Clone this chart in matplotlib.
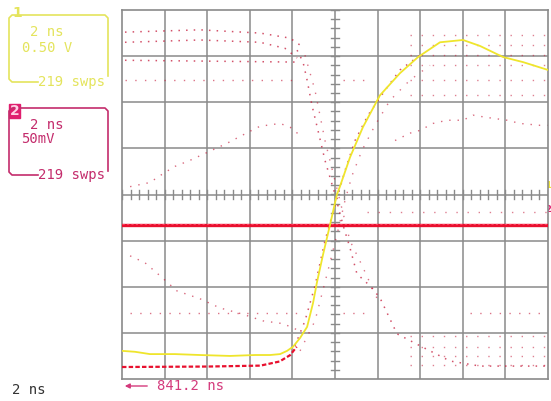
import numpy as np
import matplotlib
matplotlib.use("Agg")
import matplotlib.pyplot as plt
from matplotlib.patches import Rectangle

# Trace 1 (jaune) : temps en ns, amplitude en divisions
t_jaune = [-10.0, -9.39, -8.69, -7.51, -6.34, -4.93, -3.76, -3.05, -2.58, -2.25,
           -1.97, -1.64, -1.31, -1.03, -0.85, -0.56, -0.23, 0.09, 0.23, 0.70,
           1.31, 2.11, 3.05, 3.90, 4.93, 6.01, 6.81, 7.89, 8.83, 10.0]
v_jaune = [-3.39, -3.41, -3.46, -3.46, -3.48, -3.50, -3.48, -3.48, -3.46, -3.39,
           -3.30, -3.11, -2.87, -2.35, -1.91, -1.30, -0.65, 0.0, 0.17, 0.80,
           1.46, 2.15, 2.63, 2.98, 3.30, 3.35, 3.22, 2.98, 2.87, 2.70]

# Trace 2 (rouge) : ligne de base et rail bas
t_base = [-10.0, 10.0]
v_base = [-0.67, -0.67]
t_rail = [-10.0, -6.0, -3.5, -2.6, -2.1, -1.8]
v_rail = [-3.74, -3.73, -3.71, -3.62, -3.48, -3.30]

# Points persistants (diagramme de l'oeil), par segments
t_haut1 = [-9.86, -6.34, -3.52, -2.11, -1.64]
v_haut1 = [3.52, 3.57, 3.50, 3.39, 3.24]
t_haut2 = [-9.86, -6.34, -3.52, -2.35, -1.78]
v_haut2 = [3.30, 3.35, 3.30, 3.17, 2.96]
t_haut3 = [-9.86, -1.64]
v_haut3 = [2.91, 2.87]
t_rang_h = [-9.86, -1.64, np.nan, 0.38, 1.64]
v_rang_h = [2.48, 2.48, np.nan, 2.48, 2.48]
t_rang_b = [-9.62, -1.64, np.nan, 0.38, 1.75, np.nan, 6.34, 9.62]
v_rang_b = [-2.57, -2.57, np.nan, -2.57, -2.57, np.nan, -2.57, -2.57]

t_desc1 = [-1.78, -1.50, -1.31, -1.08, -0.80, -0.47, 0.0, 0.38, 0.70, 1.03,
           1.64, 2.11, 2.91, 3.99, 5.40, 6.81, 10.0]
v_desc1 = [3.13, 2.87, 2.48, 1.93, 1.39, 0.74, 0.0, -0.67, -1.15, -1.72,
           -1.98, -2.24, -3.02, -3.28, -3.61, -3.72, -3.72]
t_desc2 = [-1.41, -0.94, -0.47, 0.23, 0.70, 1.27, 2.02]
v_desc2 = [3.02, 2.26, 1.17, -0.13, -1.00, -1.54, -2.30]

t_mont1 = [-1.88, -1.41, -0.94, -0.47, 0.0, 0.47, 0.94, 1.55, 2.35, 3.05, 3.99]
v_mont1 = [-3.28, -2.74, -1.98, -1.00, -0.24, 0.52, 1.17, 1.72, 2.26, 2.70, 3.02]
t_mont2 = [-1.64, -0.94, -0.33, 0.14, 0.47, 0.80, 1.27, 1.88, 2.58, 3.52, 4.46]
v_mont2 = [-3.39, -2.74, -1.65, -0.78, -0.13, 0.41, 0.96, 1.50, 2.04, 2.48, 2.80]

t_plat_h = [3.5, 10.0]
v_plat_h = [3.46, 3.24, 3.02, 2.80, 2.48, 2.15]
t_plat_b = [3.5, 10.0]
v_plat_b = [-3.07, -3.30, -3.50, -3.70]

t_mil1 = [-9.62, -8.69, -7.98, -7.51, -6.81, -6.01, -5.07, -4.08, -3.52, -2.58, -2.11, -1.64]
v_mil1 = [0.17, 0.26, 0.48, 0.61, 0.74, 0.91, 1.11, 1.35, 1.48, 1.54, 1.46, 1.28]
t_mil2 = [2.82, 3.52, 3.99, 4.60, 5.26, 6.01, 6.48, 7.14, 8.08, 8.69, 9.62, 10.0]
v_mil2 = [1.17, 1.33, 1.39, 1.54, 1.61, 1.61, 1.72, 1.67, 1.61, 1.54, 1.50, 1.50]
t_mil3 = [-9.62, -8.92, -8.22, -7.42, -6.34, -5.40, -4.37, -3.38, -2.44, -1.64]
v_mil3 = [-1.33, -1.48, -1.76, -2.09, -2.26, -2.46, -2.59, -2.74, -2.80, -2.96]
t_mil4 = [1.5, 10.0]
v_mil4 = [-0.39, -0.39]

JAUNE = "#efe52c"
JAUNE_TXT = "#e4e45c"
ROUGE = "#e8102e"
ROUGE_PT = "#c41838"
MAGENTA = "#c42c6c"
GRILLE = "#8a8a8a"

W, H = 551, 401
fig = plt.figure(figsize=(W / 100, H / 100), dpi=100)

# Axe d'annotation en pixels (toute la figure)
ov = fig.add_axes([0, 0, 1, 1])
ov.set_xlim(0, W)
ov.set_ylim(H, 0)
ov.axis("off")

# Ecran de l'oscilloscope
x0, x1, y0, y1 = 122, 548, 10, 379
ax = fig.add_axes([x0 / W, 1 - y1 / H, (x1 - x0) / W, (y1 - y0) / H])
ax.set_xlim(-10, 10)
ax.set_ylim(-4, 4)
ax.set_xticks([])
ax.set_yticks([])
for sp in ax.spines.values():
    sp.set_color(GRILLE)
    sp.set_linewidth(1.2)

for t in np.arange(-8, 9, 2):
    ax.axvline(t, color=GRILLE, lw=1.1, zorder=1)
for v in np.arange(-3, 4, 1):
    ax.axhline(v, color=GRILLE, lw=1.1, zorder=1)

# Graduations de l'axe central
for t in np.arange(-10, 10.01, 0.4):
    ax.plot([t, t], [-0.09, 0.09], color=GRILLE, lw=1, zorder=1)
for v in np.arange(-4, 4.01, 0.2):
    ax.plot([-0.2, 0.2], [v, v], color=GRILLE, lw=1, zorder=1)

pts = dict(color=ROUGE_PT, lw=1.1, ls=(0, (1, 4)), alpha=0.75, zorder=2)
clairs = dict(color=ROUGE_PT, lw=1, ls=(0, (1, 6)), alpha=0.6, zorder=2)
ax.plot(t_haut1, v_haut1, **pts)
ax.plot(t_haut2, v_haut2, **pts)
ax.plot(t_haut3, v_haut3, **pts)
ax.plot(t_rang_h, v_rang_h, **clairs)
ax.plot(t_rang_b, v_rang_b, **clairs)
ax.plot(t_desc1, v_desc1, **pts)
ax.plot(t_desc2, v_desc2, **clairs)
ax.plot(t_mont1, v_mont1, **pts)
ax.plot(t_mont2, v_mont2, **clairs)
for v in v_plat_h:
    ax.plot(t_plat_h, [v, v], color=ROUGE_PT, lw=1, ls=(0, (1, 7)), alpha=0.55, zorder=2)
for v in v_plat_b:
    ax.plot(t_plat_b, [v, v], color=ROUGE_PT, lw=1, ls=(0, (1, 7)), alpha=0.55, zorder=2)
ax.plot(t_mil1, v_mil1, color=ROUGE_PT, lw=1, ls=(0, (1, 5)), alpha=0.65, zorder=2)
ax.plot(t_mil2, v_mil2, color=ROUGE_PT, lw=1, ls=(0, (1, 5)), alpha=0.65, zorder=2)
ax.plot(t_mil3, v_mil3, color=ROUGE_PT, lw=1, ls=(0, (1, 5)), alpha=0.65, zorder=2)
ax.plot(t_mil4, v_mil4, color=ROUGE_PT, lw=1, ls=(0, (1, 7)), alpha=0.55, zorder=2)

ax.plot(t_rail, v_rail, color=ROUGE, lw=1.6, ls=(0, (2, 1)), zorder=3)
ax.plot(t_base, v_base, color=ROUGE, lw=2.4, zorder=3)
ax.plot(t_base, [v_base[0] + 0.04] * 2, color="#ff4060", lw=0.8, ls=(0, (2, 2)), zorder=3)

ax.plot(t_jaune, v_jaune, color=JAUNE, lw=1.3, zorder=4)

# Logo
ov.text(124, 17, "LeCroy", fontsize=7.5, fontweight="bold", color="#707070",
        va="center", ha="left")
ov.plot([124, 160], [24, 24], color="#707070", lw=1.2)

# Cadres des voies
mono = dict(family="DejaVu Sans Mono", fontsize=10, va="center", ha="left")
ov.plot([38, 12, 9, 9, 12, 105, 108, 108],
        [82, 82, 79, 18, 15, 15, 18, 76], color=JAUNE_TXT, lw=1.2)
ov.text(12, 13, "1", color=JAUNE_TXT, fontsize=10, fontweight="bold",
        va="center", ha="left")
ov.text(30, 32, "2 ns", color=JAUNE_TXT, **mono)
ov.text(22, 48, "0.50 V", color=JAUNE_TXT, **mono)
ov.text(38, 82, "219 swps", color=JAUNE_TXT, **mono)

ov.plot([38, 12, 9, 9, 12, 105, 108, 108],
        [175, 175, 172, 111, 108, 108, 111, 171], color=MAGENTA, lw=1.2)
ov.add_patch(Rectangle((9, 104), 11, 14, color="#e01e6e"))
ov.text(14.5, 111, "2", color="#ffd0e4", fontsize=10, fontweight="bold",
        va="center", ha="center")
ov.text(30, 125, "2 ns", color=MAGENTA, **mono)
ov.text(21, 139, "50mV", color=MAGENTA, **mono)
ov.text(38, 175, "219 swps", color=MAGENTA, **mono)

# Repères de voie au bord droit
ov.text(551, 186, "1", color=JAUNE, fontsize=6, fontweight="bold",
        va="center", ha="right")
ov.text(551, 210, "2", color="#e01e6e", fontsize=6, fontweight="bold",
        va="center", ha="right")

# Bas de l'écran
ov.text(12, 390, "2 ns", family="DejaVu Sans Mono", fontsize=10, color="#333333",
        va="center", ha="left")
ov.annotate("", xy=(122, 386), xytext=(150, 386),
            arrowprops=dict(arrowstyle="-|>", color="#d43a7c", lw=1,
                            mutation_scale=7))
ov.text(157, 386, "841.2 ns", family="DejaVu Sans Mono", fontsize=10,
        color="#d43a7c", va="center", ha="left")

fig.savefig("out.png", dpi=100)
